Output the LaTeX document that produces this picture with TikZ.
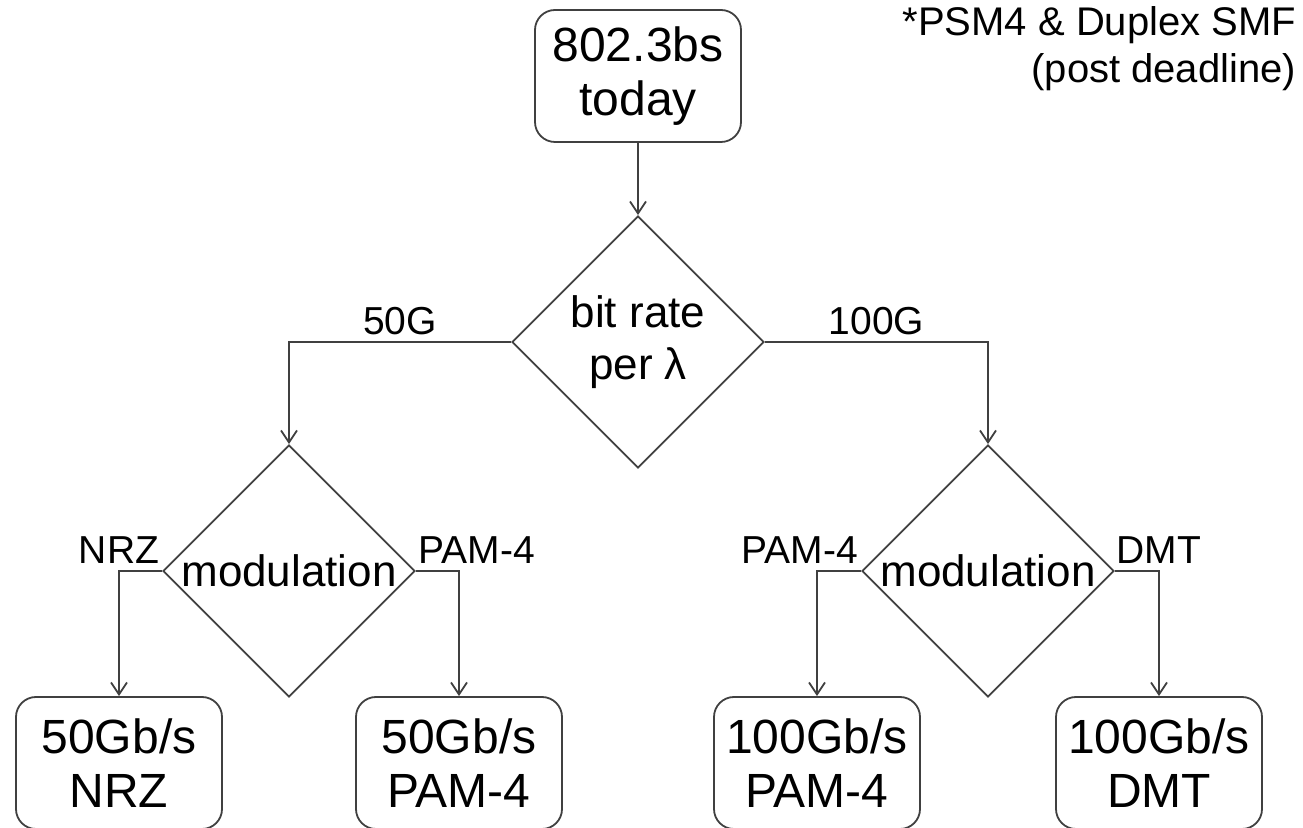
\documentclass[tikz,border=0pt]{standalone}
\usepackage{fontspec}
\setmainfont{Liberation Sans}
\usetikzlibrary{shapes.geometric,arrows.meta}
\definecolor{linegray}{RGB}{64,64,64}

\begin{document}
\begin{tikzpicture}[x=0.5pt,y=-0.5pt,line width=0.9pt,
  box/.style={draw=linegray,rounded corners=10pt,minimum width=103pt,minimum height=66pt,align=center,font=\fontsize{24}{27}\selectfont},
  decision/.style={draw=linegray,diamond,minimum width=126pt,minimum height=126pt,inner sep=0pt},
  dtext/.style={align=center,font=\fontsize{22}{26}\selectfont},
  branch/.style={font=\fontsize{19.5}{23}\selectfont},
  arr/.style={draw=linegray,-{Straight Barb[length=6pt,width=8pt]}}]

% Page frame
\useasboundingbox (0,0) rectangle (1303,828);

% Footnote
\node[anchor=north east,inner sep=0pt,align=right,font=\fontsize{20}{23.5}\selectfont] (note) at (1297,6) {*PSM4 \& Duplex SMF\\(post deadline)};

% Start and first decision
\node[box] (today) at (638,76) {802.3bs\\today};
\node[decision,label={[dtext]center:{bit rate\\per λ}}] (rate) at (638,342) {};

% Modulation decisions
\node[decision,label={[dtext]center:modulation}] (mod50) at (289,571) {};
\node[decision,label={[dtext]center:modulation}] (mod100) at (988,571) {};

% Outcomes
\node[box] (nrz50) at (119,763) {50Gb/s\\NRZ};
\node[box] (pam50) at (459,763) {50Gb/s\\PAM-4};
\node[box] (pam100) at (817,763) {100Gb/s\\PAM-4};
\node[box] (dmt100) at (1159,763) {100Gb/s\\DMT};

% Connectors
\draw[arr] (today) -- (rate);
\draw[arr] (rate.west) -| node[branch,pos=0.25,above] {50G} (mod50.north);
\draw[arr] (rate.east) -| node[branch,pos=0.25,above] {100G} (mod100.north);
\draw[arr] (mod50.west) -| node[branch,pos=0.5,above] {NRZ} (nrz50.north);
\draw[arr] (mod50.east) -| node[branch,pos=0.5,above,xshift=9pt] {PAM-4} (pam50.north);
\draw[arr] (mod100.west) -| node[branch,pos=0.5,above,xshift=-8.5pt] {PAM-4} (pam100.north);
\draw[arr] (mod100.east) -| node[branch,pos=0.5,above] {DMT} (dmt100.north);

\end{tikzpicture}
\end{document}
